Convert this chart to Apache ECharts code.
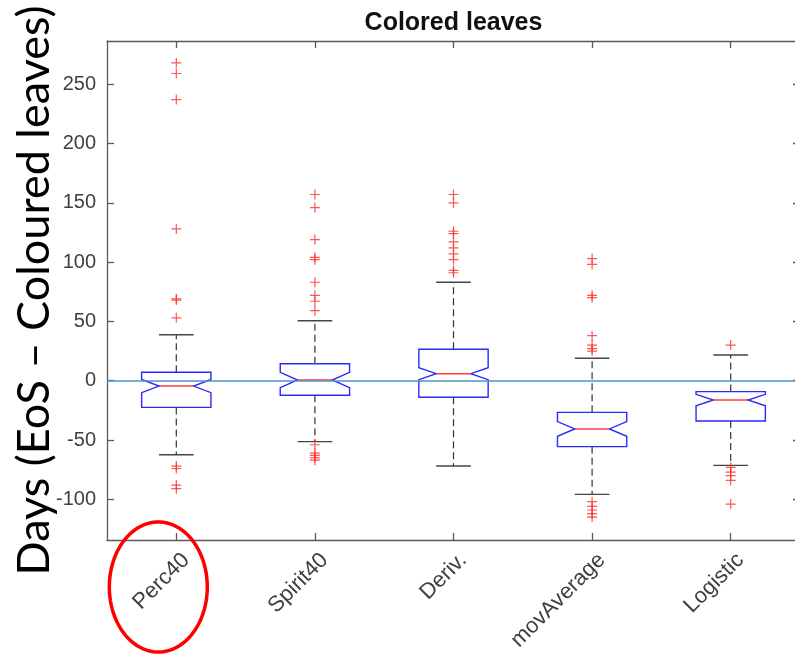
<!DOCTYPE html>
<html>
<head>
<meta charset="utf-8">
<script src="https://cdn.jsdelivr.net/npm/echarts@6/dist/echarts.min.js"></script>
<style>
  html, body { margin: 0; padding: 0; background: #fff; }
  #chart { width: 795px; height: 657px; }
</style>
</head>
<body>
<div id="chart"></div>
<script>
// Methods compared against the coloured-leaves date
const categories = ['Perc40', 'Spirit40', 'Deriv.', 'movAverage', 'Logistic'];

// Box statistics (days)
const whiskerLow  = [-62.4, -51.4, -71.9, -95.8, -71.4];
const q1          = [-22.5, -12.3, -14.0, -55.6, -34.0];
const median      = [-4.5, 0.6, 5.9, -40.7, -16.3];
const q3          = [7.1, 14.3, 26.5, -26.7, -9.2];
const whiskerHigh = [38.8, 50.6, 83.0, 18.9, 21.7];
const notchHalf   = [5.6, 6.5, 5.0, 6.2, 4.8];

// Outliers per method
const outliersPerc40     = [268, 259, 237, 128, 69, 68, 53, -72, -74, -88, -91];
const outliersSpirit40   = [157, 146, 119, 104, 102, 83, 72, 67, 59, -54, -61, -63, -65, -67];
const outliersDeriv      = [157, 150, 126, 124, 117, 112, 107, 102, 93, 91];
const outliersMovAverage = [103, 98, 72, 70, 38, 30, 27, 25, -102, -106, -109, -112, -115];
const outliersLogistic   = [30, -73, -77, -80, -84, -104];

// Value axis
const yMin = -134.3;
const yMax = 286.4;
const yTicks = [-100, -50, 0, 50, 100, 150, 200, 250];
const referenceLine = 0;

const outlierGroups = [outliersPerc40, outliersSpirit40, outliersDeriv, outliersMovAverage, outliersLogistic];
const outlierPoints = [];
outlierGroups.forEach((vals, i) => vals.forEach(v => outlierPoints.push([i, v])));

const boxData = categories.map((c, i) => [
  i, whiskerLow[i], q1[i], median[i] - notchHalf[i], median[i],
  median[i] + notchHalf[i], q3[i], whiskerHigh[i]
]);

const TICK_FONT = '"Liberation Sans", Arial, Helvetica, sans-serif';
const LABEL_FONT = 'Lato, "Noto Sans", sans-serif';
const AXIS_COLOR = '#5a5a5a';

function renderBox(params, api) {
  const idx = api.value(0);
  const band = api.size([1, 0])[0];
  const hw = band * 0.25;
  const nw = hw * 0.5;
  const cw = hw * 0.5;
  const x = api.coord([idx, 0])[0];
  const y = v => api.coord([idx, v])[1];
  const yWL = y(api.value(1)), yQ1 = y(api.value(2)), yNL = y(api.value(3));
  const yMed = y(api.value(4)), yNH = y(api.value(5)), yQ3 = y(api.value(6));
  const yWH = y(api.value(7));
  const dash = { stroke: '#333', lineWidth: 1.2, lineDash: [7, 4] };
  const solid = { stroke: '#444', lineWidth: 1.4 };
  return {
    type: 'group',
    children: [
      { type: 'line', shape: { x1: x, y1: yQ3, x2: x, y2: yWH }, style: dash },
      { type: 'line', shape: { x1: x, y1: yQ1, x2: x, y2: yWL }, style: dash },
      { type: 'line', shape: { x1: x - cw, y1: yWH, x2: x + cw, y2: yWH }, style: solid },
      { type: 'line', shape: { x1: x - cw, y1: yWL, x2: x + cw, y2: yWL }, style: solid },
      {
        type: 'polygon',
        shape: { points: [
          [x - hw, yQ3], [x + hw, yQ3], [x + hw, yNH], [x + nw, yMed], [x + hw, yNL],
          [x + hw, yQ1], [x - hw, yQ1], [x - hw, yNL], [x - nw, yMed], [x - hw, yNH]
        ] },
        style: { fill: 'none', stroke: '#2a2aff', lineWidth: 1.4 }
      },
      { type: 'line', shape: { x1: x - nw, y1: yMed, x2: x + nw, y2: yMed },
        style: { stroke: '#ff3b3b', lineWidth: 1.4 } }
    ]
  };
}

// Slanted method names under each tick
function renderCategoryLabel(params, api) {
  const idx = api.value(0);
  const p = api.coord([idx, yMin]);
  return {
    type: 'text',
    x: p[0] + 2,
    y: p[1] + 9,
    rotation: Math.PI / 4,
    style: {
      text: categories[idx],
      fontSize: 22,
      fontFamily: TICK_FONT,
      fill: '#404040',
      align: 'right',
      verticalAlign: 'top'
    }
  };
}

// Red ellipse highlighting the first method label
function renderHighlight(params, api) {
  const p = api.coord([api.value(0), yMin]);
  const cx = p[0] - 18, cy = p[1] + 47, rx = 49, ry = 65;
  const pts = [];
  for (let k = 0; k < 90; k++) {
    const t = (k / 90) * Math.PI * 2;
    pts.push([cx + rx * Math.cos(t), cy + ry * Math.sin(t)]);
  }
  return {
    type: 'polygon',
    shape: { points: pts },
    style: { fill: 'none', stroke: '#ff0000', lineWidth: 3.5 }
  };
}

const axisLine = { show: true, onZero: false, lineStyle: { color: AXIS_COLOR, width: 1.3 } };
const axisTick = { show: true, inside: true, length: 7, lineStyle: { color: AXIS_COLOR, width: 1.3 } };

const chart = echarts.init(document.getElementById('chart'), null, { renderer: 'canvas' });
chart.setOption({
  animation: false,
  backgroundColor: '#ffffff',
  grid: { left: 107, right: -5, top: 41, bottom: 117, outerBoundsMode: 'none', containLabel: false },
  xAxis: [
    {
      type: 'category', data: categories, position: 'bottom',
      axisLine: axisLine,
      axisTick: Object.assign({ alignWithLabel: true }, axisTick),
      axisLabel: { show: false },
      splitLine: { show: false }
    },
    {
      type: 'category', data: categories, position: 'top',
      axisLine: axisLine,
      axisTick: Object.assign({ alignWithLabel: true }, axisTick),
      axisLabel: { show: false },
      name: 'Colored leaves', nameLocation: 'middle', nameGap: 5,
      nameTextStyle: { fontSize: 25, fontWeight: 'bold', color: '#111', fontFamily: TICK_FONT }
    }
  ],
  yAxis: [
    {
      type: 'value', min: yMin, max: yMax, position: 'left',
      axisLine: axisLine,
      axisTick: Object.assign({ customValues: yTicks }, axisTick),
      axisLabel: { customValues: yTicks, margin: 11, fontSize: 20, color: '#404040', fontFamily: TICK_FONT },
      splitLine: { show: false },
      name: 'Days (EoS \u2013 Coloured leaves)', nameLocation: 'middle', nameGap: 50,
      nameMoveOverlap: false,
      nameTextStyle: { fontSize: 45, color: '#000', fontFamily: LABEL_FONT }
    },
    {
      type: 'value', min: yMin, max: yMax, position: 'right',
      axisLine: axisLine,
      axisTick: Object.assign({ customValues: yTicks }, axisTick),
      axisLabel: { show: false },
      splitLine: { show: false }
    }
  ],
  series: [
    {
      type: 'custom', name: 'box', xAxisIndex: 0, yAxisIndex: 0,
      renderItem: renderBox, data: boxData, z: 3,
      encode: { x: 0, y: [1, 2, 3, 4, 5, 6, 7] }
    },
    {
      type: 'scatter', name: 'outliers', xAxisIndex: 0, yAxisIndex: 0,
      data: outlierPoints, z: 4,
      symbol: 'path://M5,0L5,10M0,5L10,5', symbolSize: 10,
      itemStyle: { color: 'none', borderColor: '#ff2a2a', borderWidth: 1.2 },
      markLine: {
        silent: true, symbol: 'none', label: { show: false },
        lineStyle: { color: '#4f94cf', width: 1.6, type: 'solid' },
        data: [{ yAxis: referenceLine }]
      }
    },
    {
      type: 'custom', name: 'labels', xAxisIndex: 0, yAxisIndex: 0,
      renderItem: renderCategoryLabel, data: categories.map((c, i) => [i]),
      clip: false, silent: true, encode: { x: 0 }
    },
    {
      type: 'custom', name: 'highlight', xAxisIndex: 0, yAxisIndex: 0,
      renderItem: renderHighlight, data: [[0]], clip: false, z: 10, silent: true,
      encode: { x: 0 }
    }
  ]
});
</script>
</body>
</html>
